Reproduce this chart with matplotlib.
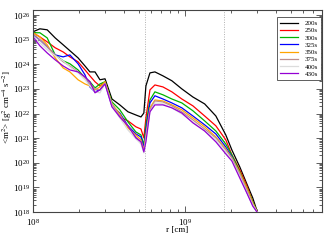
import numpy as np
import matplotlib
matplotlib.use("Agg")
import matplotlib.pyplot as plt
from matplotlib.ticker import LogLocator, NullFormatter

plt.rcParams['font.family'] = ['Liberation Serif', 'DejaVu Serif']
plt.rcParams['mathtext.fontset'] = 'stix'

# radius [cm]
r_cm = np.array([1.0, 1.11, 1.24, 1.40, 1.58, 1.75, 1.98, 2.20, 2.37, 2.56,
                 2.76, 2.98, 3.31, 3.73, 4.22, 4.76, 5.14, 5.37, 5.54, 5.89,
                 6.35, 7.17, 8.21, 9.55, 11.3, 13.5, 16.0, 18.6, 20.4, 23.0,
                 25.6, 28.0, 30.2]) * 1e8

labels = ["200s", "250s", "300s", "325s", "350s", "375s", "400s", "430s"]
colors = ["#000000", "#ff0000", "#00b400", "#0000ff", "#ffa500", "#bc8f8f", "#dcdcdc", "#9400d3"]

# log10 of <m^2> [g^2 cm^-4 s^-2]
log_200 = [25.32, 25.44, 25.40, 25.07, 24.79, 24.55, 24.26, 23.93, 23.69, 23.69,
           23.37, 23.41, 22.59, 22.35, 22.07, 21.94, 21.86, 22.02, 23.12, 23.65,
           23.69, 23.53, 23.33, 23.00, 22.67, 22.39, 21.90, 21.13, 20.52, 19.83,
           19.14, 18.57, 17.95]
log_250 = [25.28, 25.11, 24.91, 24.67, 24.50, 24.30, 24.10, 23.77, 23.53, 23.29,
           23.12, 23.29, 22.39, 21.86, 21.70, 21.46, 21.37, 21.01, 21.82, 22.96,
           23.16, 23.08, 22.88, 22.59, 22.31, 21.90, 21.50, 20.93, 20.32, 19.71,
           19.06, 18.41, 17.95]
log_300 = [25.28, 25.28, 25.07, 24.38, 24.14, 24.02, 23.77, 23.45, 23.29, 23.04,
           23.20, 23.29, 22.47, 22.15, 21.66, 21.25, 21.13, 20.72, 21.54, 22.55,
           22.88, 22.76, 22.59, 22.43, 22.11, 21.70, 21.29, 20.76, 20.32, 19.63,
           18.98, 18.41, 17.95]
log_325 = [25.20, 24.99, 24.71, 24.38, 24.30, 24.38, 24.02, 23.57, 23.08, 22.88,
           22.96, 23.24, 22.31, 22.02, 21.50, 21.17, 21.05, 20.60, 21.33, 22.43,
           22.72, 22.59, 22.43, 22.23, 21.90, 21.54, 21.17, 20.64, 20.24, 19.50,
           18.81, 18.29, 17.96]
log_350 = [25.28, 25.11, 24.79, 24.26, 23.85, 23.69, 23.37, 23.20, 23.12, 22.96,
           23.08, 23.29, 22.39, 21.98, 21.41, 21.13, 20.93, 20.52, 21.13, 22.23,
           22.55, 22.51, 22.35, 22.15, 21.82, 21.46, 21.05, 20.56, 20.20, 19.59,
           18.98, 18.37, 17.95]
log_375 = [25.24, 24.99, 24.71, 24.38, 24.10, 23.93, 23.69, 23.45, 23.20, 23.00,
           22.96, 23.24, 22.39, 21.90, 21.50, 21.05, 20.85, 20.48, 21.05, 22.15,
           22.51, 22.47, 22.31, 22.07, 21.74, 21.37, 21.01, 20.52, 20.20, 19.55,
           18.90, 18.33, 17.95]
log_400 = [25.15, 24.87, 24.59, 24.34, 24.14, 23.89, 23.65, 23.37, 23.12, 22.88,
           22.84, 23.20, 22.31, 21.82, 21.33, 20.97, 20.76, 20.40, 20.93, 22.07,
           22.43, 22.39, 22.23, 21.98, 21.66, 21.29, 20.93, 20.44, 20.11, 19.46,
           18.81, 18.29, 17.96]
log_430 = [25.11, 24.75, 24.46, 24.18, 23.93, 23.77, 23.69, 23.49, 23.29, 22.84,
           22.96, 23.20, 22.27, 21.86, 21.50, 21.01, 20.85, 20.44, 20.85, 22.07,
           22.35, 22.35, 22.23, 22.02, 21.62, 21.29, 20.85, 20.36, 20.07, 19.38,
           18.77, 18.24, 17.96]

series = [log_200, log_250, log_300, log_325, log_350, log_375, log_400, log_430]
vlines_r = [5.45e8, 1.8e9]

fig = plt.figure(figsize=(3.24, 2.40), dpi=100)
ax = fig.add_axes([33/324, 28/240, 289/324, 202/240])

for lab, col, s in zip(labels, colors, series):
    ax.plot(r_cm, 10.0**np.array(s), color=col, lw=0.9, label=lab)

for v in vlines_r:
    ax.axvline(v, color="#b0b0b0", lw=0.7, ls=(0, (1, 1.5)), zorder=0)

ax.set_xscale("log")
ax.set_yscale("log")
ax.set_xlim(1e8, 8e9)
ax.set_ylim(1e18, 1.6e26)

ax.xaxis.set_major_locator(LogLocator(base=10, numticks=20))
ax.xaxis.set_minor_locator(LogLocator(base=10, subs=np.arange(2, 10), numticks=20))
ax.yaxis.set_major_locator(LogLocator(base=10, numticks=20))
ax.yaxis.set_minor_locator(LogLocator(base=10, subs=np.arange(2, 10), numticks=20))
ax.xaxis.set_minor_formatter(NullFormatter())
ax.yaxis.set_minor_formatter(NullFormatter())

ax.tick_params(which="both", direction="in", top=True, right=True,
               labelsize=6.5, pad=2, color="#444444", width=0.6)
ax.tick_params(axis="x", which="both", pad=3.5)
ax.tick_params(which="major", length=4)
ax.tick_params(which="minor", length=2)
for sp in ax.spines.values():
    sp.set_color("#444444")
    sp.set_linewidth(0.8)

ax.set_xlabel("r [cm]", fontsize=6.5, labelpad=-1)
ax.set_ylabel(r"<m$^2$> [g$^2$ cm$^{-4}$ s$^{-2}$]", fontsize=6.5)
ax.yaxis.set_label_coords(-19/289, 0.52)

leg = ax.legend(loc="upper right", fontsize=5, frameon=True, fancybox=False,
                edgecolor="#444444", framealpha=1, borderpad=0.45,
                labelspacing=0.2, handlelength=2.6, handletextpad=0.9,
                borderaxespad=0, bbox_to_anchor=(0.9965, 0.965))
leg.get_frame().set_linewidth(0.6)

fig.savefig("out.png", dpi=100)
